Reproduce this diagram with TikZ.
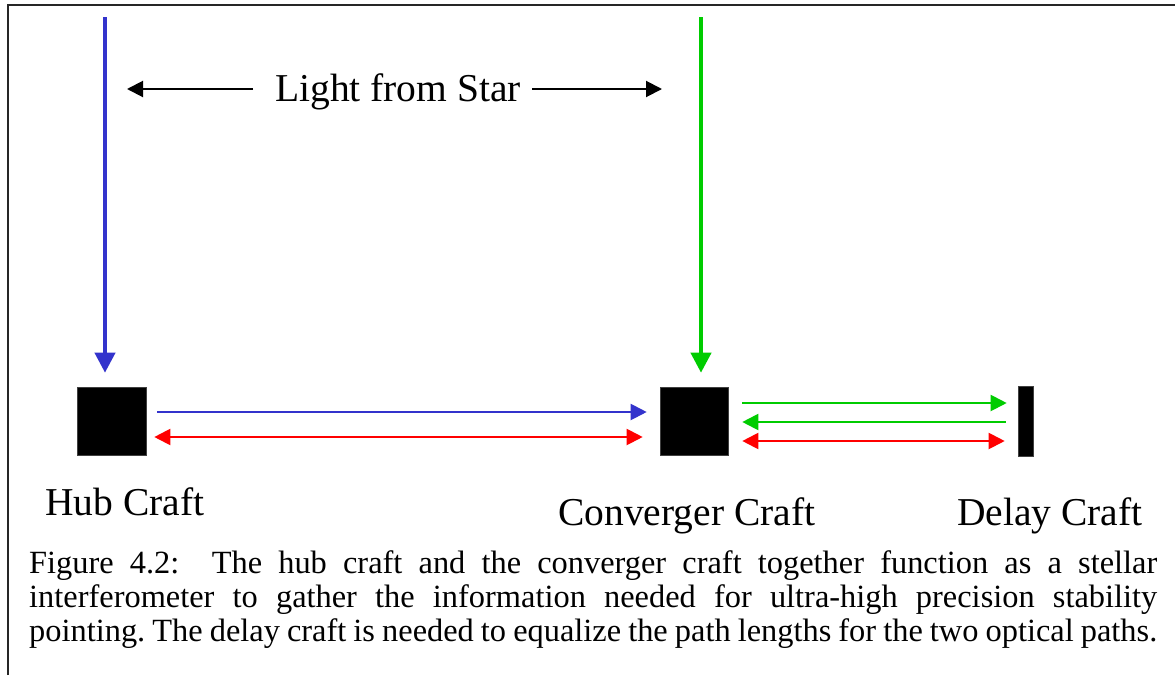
\documentclass[tikz,border=0pt]{standalone}
\usepackage{fontspec}
\setmainfont{Liberation Serif}
\usetikzlibrary{arrows.meta}
\definecolor{beamblue}{RGB}{51,51,204}
\definecolor{beamgreen}{RGB}{0,204,0}
\definecolor{beamred}{RGB}{255,0,0}
\frenchspacing
\begin{document}
\begin{tikzpicture}[x=1pt,y=-1pt,
  craftbox/.style={fill=black,draw=black!75,line width=0.6pt,inner sep=0pt},
  beamline/.style={line width=4pt,-{Triangle[length=20pt,width=20pt]}},
  thinarr/.style={line width=2pt,-{Triangle[length=16pt,width=16pt]}},
  thinboth/.style={line width=2pt,{Triangle[length=16pt,width=16pt]}-{Triangle[length=16pt,width=16pt]}},
  craftlabel/.style={font=\fontsize{39.5}{47}\selectfont,inner sep=0pt,anchor=base west},
  captext/.style={font=\fontsize{32.4}{34}\selectfont,inner sep=0pt,anchor=base west}]
\useasboundingbox (0,0) rectangle (1175,675);
\fill[white] (0,0) rectangle (1175,675);
% frame
\draw[line width=1.6pt,black!85] (8,675) -- (8,5) -- (1175,5);
% craft
\node[craftbox,minimum width=69pt,minimum height=68pt] (hub) at (111.5,421) {};
\node[craftbox,minimum width=68pt,minimum height=68pt] (conv) at (694,421) {};
\node[craftbox,minimum width=15pt,minimum height=70pt] (delay) at (1025.5,421) {};
% starlight beams
\coordinate (btop) at (105,17);
\coordinate (gtop) at (701,17);
\draw[beamline,beamblue] (btop) -- ([xshift=-6.5pt,yshift=14pt]hub.north);
\draw[beamline,beamgreen] (gtop) -- ([xshift=7pt,yshift=14pt]conv.north);
% light from star label
\node[craftlabel] (star) at (275,101) {Light from Star};
\coordinate (sla) at (253,89);
\coordinate (slb) at (127,89);
\coordinate (sra) at (532,89);
\coordinate (srb) at (662,89);
\draw[thinarr,black] (sla) -- (slb);
\draw[thinarr,black] (sra) -- (srb);
% hub to converger
\draw[thinarr,beamblue,shorten <=11pt,shorten >=13pt] ([yshift=9pt]hub.east) -- ([yshift=9pt]conv.west);
\draw[thinboth,beamred,shorten <=8pt,shorten >=17pt] ([yshift=-16pt]hub.east) -- ([yshift=-16pt]conv.west);
% converger to delay
\draw[thinarr,beamgreen,shorten <=14pt,shorten >=11pt] ([yshift=18pt]conv.east) -- ([yshift=18pt]delay.west);
\draw[thinarr,beamgreen,shorten <=12pt,shorten >=14pt] ([yshift=-1pt]delay.west) -- ([yshift=-1pt]conv.east);
\draw[thinboth,beamred,shorten <=14pt,shorten >=13pt] ([yshift=-20pt]conv.east) -- ([yshift=-20pt]delay.west);
% labels
\node[craftlabel] (hublbl) at (45,515) {Hub Craft};
\node[craftlabel] (convlbl) at (558,525) {Converger Craft};
\node[craftlabel] (delaylbl) at (957,525) {Delay Craft};
% caption
\node[captext] (cap) at (29,573) {\parbox[t]{1128pt}{\fontsize{32.4}{34}\selectfont
\makebox[1128pt][s]{Figure 4.2:\ \ The hub craft and the converger craft together function as a stellar}\\
\makebox[1128pt][s]{interferometer to gather the information needed for ultra-high precision stability}\\
pointing. The delay craft is needed to equalize the path lengths for the two optical paths.}};
\end{tikzpicture}
\end{document}
